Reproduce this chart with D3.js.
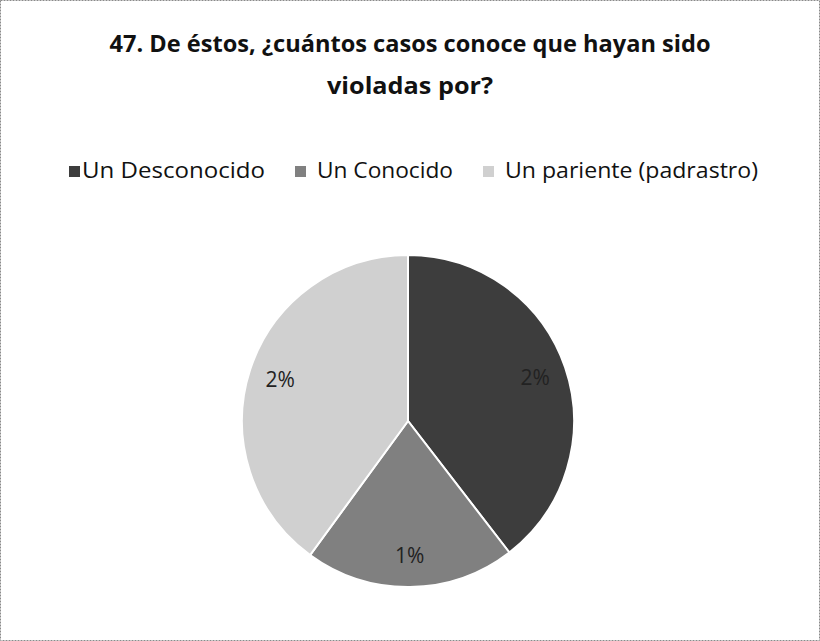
<!doctype html>
<html>
  <head>
    <meta charset="utf-8">
    <script src="https://cdnjs.cloudflare.com/ajax/libs/d3/7.8.5/d3.min.js"></script>
    <style>
      body { margin: 0; background: #fff; }
      text { font-family: "Open Sans", "Noto Sans", sans-serif; fill: #111; }
      .title { font-weight: bold; font-size: 24px; }
      .legend text { font-size: 21px; }
      .pct { font-size: 21px; fill: #222; }
    </style>
  </head>
  <body>
    <div id="chart"></div>
    <script>
      var titleLines = ["47. De éstos, ¿cuántos casos conoce que hayan sido", "violadas por?"];
      var categories = ["Un Desconocido", "Un Conocido", "Un pariente (padrastro)"];
      var values = [1.93, 1.0, 1.95];
      var pctLabels = ["2%", "1%", "2%"];
      var colors = ["#3d3d3d", "#808080", "#d0d0d0"];

      var width = 820, height = 641;
      var cx = 408, cy = 421, radius = 166;

      var svg = d3.select("#chart").append("svg")
          .attr("width", width)
          .attr("height", height);

      // outer frame
      svg.append("rect")
          .attr("x", 0.5).attr("y", 0.5)
          .attr("width", width - 1).attr("height", height - 1)
          .attr("fill", "none")
          .attr("stroke", "#8a8a8a")
          .attr("stroke-dasharray", "2 1");

      // title (widths taken from the reference so the condensed look carries over)
      var titleWidths = [601, 166];
      svg.selectAll("text.title")
        .data(titleLines)
        .enter()
        .append("text")
          .attr("class", "title")
          .attr("x", 410)
          .attr("y", (d, i) => 52 + i * 42)
          .attr("text-anchor", "middle")
          .attr("textLength", (d, i) => titleWidths[i])
          .attr("lengthAdjust", "spacingAndGlyphs")
          .text(d => d);

      // legend
      var legendX = [69, 295, 483];
      var legendTextW = [183, 136, 253];
      var legend = svg.append("g").attr("class", "legend");
      var items = legend.selectAll("g")
        .data(categories)
        .enter()
        .append("g")
          .attr("transform", (d, i) => "translate(" + legendX[i] + ",0)");
      items.append("rect")
          .attr("x", 0).attr("y", 166)
          .attr("width", 11).attr("height", 11)
          .attr("fill", (d, i) => colors[i]);
      items.append("text")
          .attr("x", (d, i) => i == 0 ? 13 : 22)
          .attr("y", 178)
          .attr("textLength", (d, i) => legendTextW[i])
          .attr("lengthAdjust", "spacingAndGlyphs")
          .text(d => d);

      // pie
      var pie = d3.pie().sort(null).value(d => d);
      var arc = d3.arc().innerRadius(0).outerRadius(radius);
      var labelArc = d3.arc().innerRadius(radius * 0.81).outerRadius(radius * 0.81);

      var g = svg.append("g").attr("transform", "translate(" + cx + "," + cy + ")");
      g.selectAll("path")
        .data(pie(values))
        .enter()
        .append("path")
          .attr("d", arc)
          .attr("fill", (d, i) => colors[i])
          .attr("stroke", "#fff")
          .attr("stroke-width", 2);

      g.selectAll("text.pct")
        .data(pie(values))
        .enter()
        .append("text")
          .attr("class", "pct")
          .attr("transform", d => "translate(" + labelArc.centroid(d) + ")")
          .attr("text-anchor", "middle")
          .attr("dy", "0.35em")
          .text((d, i) => pctLabels[i]);
    </script>
  </body>
</html>
